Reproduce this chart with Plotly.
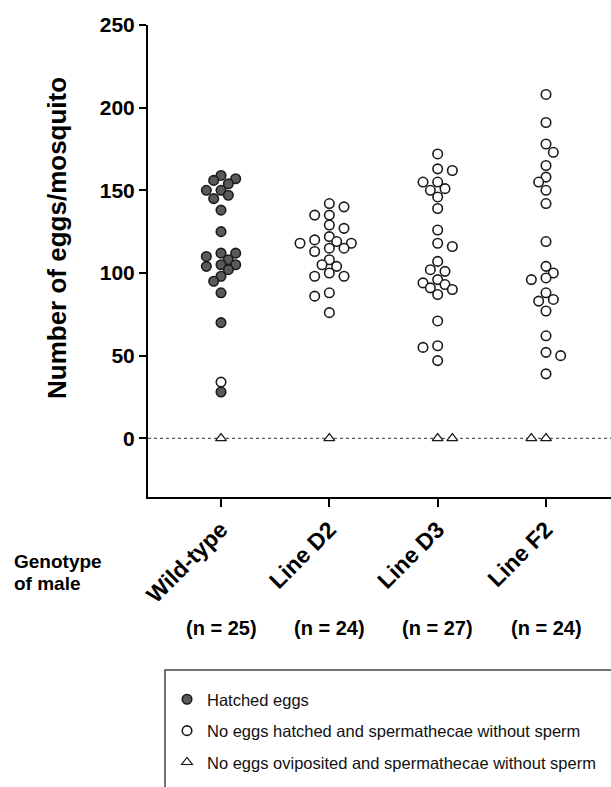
import plotly.graph_objects as go

# ---------------- data ----------------
categories = ["Wild-type", "Line D2", "Line D3", "Line F2"]
n_labels = ["(n = 25)", "(n = 24)", "(n = 27)", "(n = 24)"]

# Hatched eggs (filled circles)
hatched_wt = [159, 157, 156, 154, 150, 150, 147, 145, 138, 125, 112, 112, 110,
              108, 105, 105, 104, 102, 98, 95, 88, 70, 28]
hatched_d2 = []
hatched_d3 = []
hatched_f2 = []

# No eggs hatched and spermathecae without sperm (open circles)
open_wt = [34]
open_d2 = [142, 140, 135, 135, 129, 127, 122, 120, 119, 118, 118, 115, 115, 113,
           108, 105, 104, 100, 98, 98, 88, 86, 76]
open_d3 = [172, 163, 162, 155, 155, 151, 150, 146, 139, 126, 118, 116, 107, 102,
           101, 96, 94, 93, 91, 90, 87, 71, 56, 55, 47]
open_f2 = [208, 191, 178, 173, 165, 158, 155, 150, 142, 119, 104, 100, 97, 96,
           88, 84, 83, 77, 62, 52, 50, 39]

# No eggs oviposited and spermathecae without sperm (triangles)
tri_wt = [0]
tri_d2 = [0]
tri_d3 = [0, 0]
tri_f2 = [0, 0]

hatched = [hatched_wt, hatched_d2, hatched_d3, hatched_f2]
opened = [open_wt, open_d2, open_d3, open_f2]
tris = [tri_wt, tri_d2, tri_d3, tri_f2]

y_ticks = [0, 50, 100, 150, 200, 250]

# ---------------- layout constants ----------------
W, H = 611, 787
ML, MR, MT, MB = 148, 0, 25, 290
XR = [-0.674, 3.6]
YR = [-35.5, 250]
plot_w = W - ML - MR
plot_h = H - MT - MB
px_x = plot_w / (XR[1] - XR[0])
px_y = plot_h / (YR[1] - YR[0])


def swarm(values, d=8.4, s=7.33):
    """Greedy grid beeswarm; returns offsets in x-axis units."""
    order = sorted(range(len(values)), key=lambda i: -values[i])
    placed = []
    off = [0.0] * len(values)
    for i in order:
        y = values[i] * px_y
        pos = sum(1 for p in placed if p[0] > 0)
        neg = sum(1 for p in placed if p[0] < 0)
        cands = [0]
        for m in range(1, 30):
            cands += [m, -m] if pos <= neg else [-m, m]
        x = 0.0
        for c in cands:
            x = c * s
            if all((x - px) ** 2 + (y - py) ** 2 >= d * d for px, py in placed):
                break
        placed.append((x, y))
        off[i] = x / px_x
    return off


hx, hy, ox, oy, tx, ty = [], [], [], [], [], []
for gi in range(len(categories)):
    vals = hatched[gi] + opened[gi] + tris[gi]
    offs = swarm(vals)
    nh, no = len(hatched[gi]), len(opened[gi])
    for j, v in enumerate(vals):
        xv = gi + offs[j]
        if j < nh:
            hx.append(xv); hy.append(v)
        elif j < nh + no:
            ox.append(xv); oy.append(v)
        else:
            tx.append(xv); ty.append(v)

FONT = "Liberation Sans, Arial, Helvetica, sans-serif"
OUT = "#1a1a1a"

fig = go.Figure()
fig.add_trace(go.Scatter(
    x=hx, y=hy, mode="markers", name="Hatched eggs", legendgroup="a",
    marker=dict(symbol="circle", size=9.5, color="#5a5a5a",
                line=dict(color=OUT, width=1.6)),
    cliponaxis=False))
fig.add_trace(go.Scatter(
    x=ox, y=oy, mode="markers",
    name="No eggs hatched and spermathecae without sperm", legendgroup="b",
    marker=dict(symbol="circle", size=9.5, color="white",
                line=dict(color=OUT, width=1.6)),
    cliponaxis=False))
fig.add_trace(go.Scatter(
    x=tx, y=ty, mode="markers",
    name="No eggs oviposited and spermathecae without sperm", legendgroup="c",
    marker=dict(symbol="triangle-up", size=9.5, color="white",
                line=dict(color=OUT, width=1.2)),
    cliponaxis=False))


def px2paper_x(px):
    return (px - ML) / plot_w


def px2paper_y(py):
    return (H - MB - py) / plot_h


annotations = [
    dict(text="Number of eggs/mosquito", xref="paper", yref="paper",
         x=px2paper_x(57), y=px2paper_y(238), textangle=-90,
         xanchor="center", yanchor="middle", showarrow=False,
         font=dict(family=FONT, size=26, color="black", weight="bold")),
    dict(text="Genotype", xref="paper", yref="paper",
         x=px2paper_x(12), y=px2paper_y(561), xanchor="left", yanchor="middle",
         showarrow=False,
         font=dict(family=FONT, size=19, color="black", weight="bold")),
    dict(text="of male", xref="paper", yref="paper",
         x=px2paper_x(12), y=px2paper_y(583), xanchor="left", yanchor="middle",
         showarrow=False,
         font=dict(family=FONT, size=19, color="black", weight="bold")),
]
for i, lab in enumerate(n_labels):
    annotations.append(dict(
        text=lab, x=i, xref="x", y=px2paper_y(628), yref="paper",
        xanchor="center", yanchor="middle", showarrow=False,
        font=dict(family=FONT, size=20, color="black", weight="bold")))

shapes = [
    dict(type="line", xref="paper", yref="y", x0=0, x1=1, y0=0, y1=0,
         line=dict(color="#333333", width=1, dash="dot"), layer="below"),
    dict(type="rect", xref="paper", yref="paper",
         x0=px2paper_x(165), x1=px2paper_x(640),
         y0=px2paper_y(670), y1=px2paper_y(820),
         line=dict(color="#444444", width=1.5)),
]

fig.update_layout(
    width=W, height=H,
    margin=dict(l=ML, r=MR, t=MT, b=MB, pad=0, autoexpand=False),
    paper_bgcolor="white", plot_bgcolor="white",
    font=dict(family=FONT, color="black"),
    showlegend=True,
    legend=dict(x=px2paper_x(167), y=px2paper_y(682), xanchor="left",
                yanchor="top", bgcolor="rgba(0,0,0,0)", borderwidth=0,
                traceorder="grouped", tracegroupgap=7, itemwidth=30,
                font=dict(family=FONT, size=16.5, color="#111111")),
    xaxis=dict(range=XR, tickmode="array", tickvals=list(range(len(categories))),
               ticktext=categories, tickangle=-45,
               tickfont=dict(family=FONT, size=23, color="black", weight="bold"),
               ticks="outside", ticklen=8, tickwidth=2, tickcolor="black",
               showline=True, linewidth=2, linecolor="black",
               showgrid=False, zeroline=False, fixedrange=True),
    yaxis=dict(range=YR, tickmode="array", tickvals=y_ticks,
               tickfont=dict(family=FONT, size=21, color="black", weight="bold"),
               ticks="outside", ticklen=7, tickwidth=2, tickcolor="black",
               showline=True, linewidth=2, linecolor="black",
               showgrid=False, zeroline=False, fixedrange=True),
    annotations=annotations,
    shapes=shapes,
)

fig.write_html("out.html",
               config={"displayModeBar": False},
               post_script="document.body.style.margin='0';"
                           "document.body.style.overflow='hidden';")
